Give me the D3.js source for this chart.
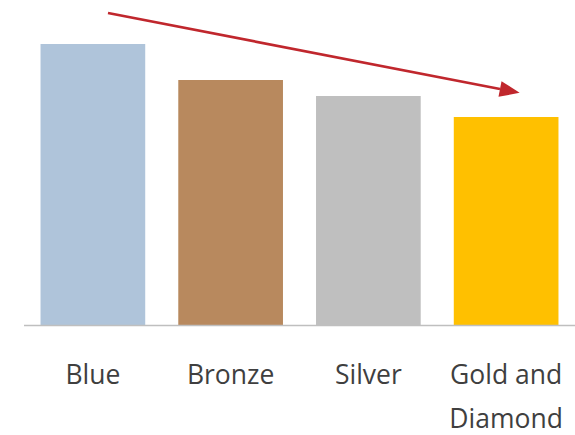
<!DOCTYPE html>
<html>
<head>
<meta charset="utf-8">
<script src="https://cdn.jsdelivr.net/npm/d3@7"></script>
<style>
  body { margin: 0; background: #fff; }
  svg { display: block; }
  .label { font-family: "Open Sans", "Liberation Sans", sans-serif; font-size: 26.5px; fill: #3f3f3f; }
</style>
</head>
<body>
<div id="chart"></div>
<script>
  // data
  var categories = ["Blue", "Bronze", "Silver", "Gold and Diamond"];
  var labelLines = [["Blue"], ["Bronze"], ["Silver"], ["Gold and", "Diamond"]];
  var values = [281, 245, 229, 208];
  var colors = ["#afc4da", "#b8895e", "#bfbfbf", "#ffc000"];

  var width = 575, height = 435,
    margin = {top: 0, right: 0, bottom: 110, left: 24};

  var svg = d3.select("#chart").append("svg")
    .attr("width", width)
    .attr("height", height);

  var x = d3.scaleBand()
    .domain(categories)
    .range([margin.left, width - margin.right])
    .paddingInner(0.24)
    .paddingOuter(0.12);

  var baseY = 325;
  var y = d3.scaleLinear()
    .domain([0, 325])
    .range([baseY, 0]);

  // bars
  svg.selectAll(".bar")
    .data(values)
    .enter().append("rect")
      .attr("class", "bar")
      .attr("x", function (d, i) { return x(categories[i]); })
      .attr("y", function (d) { return y(d); })
      .attr("width", x.bandwidth())
      .attr("height", function (d) { return y(0) - y(d); })
      .style("fill", function (d, i) { return colors[i]; });

  // baseline
  svg.append("line")
    .attr("x1", margin.left)
    .attr("x2", width)
    .attr("y1", baseY + 0.5)
    .attr("y2", baseY + 0.5)
    .style("stroke", "#bfbfbf")
    .style("stroke-width", 1.5);

  // labels
  var labels = svg.selectAll(".label")
    .data(labelLines)
    .enter().append("text")
      .attr("class", "label")
      .attr("text-anchor", "middle")
      .attr("transform", function (d, i) {
        return "translate(" + (x(categories[i]) + x.bandwidth() / 2) + "," + 384 + ")";
      });
  labels.selectAll("tspan")
    .data(function (d) { return d; })
    .enter().append("tspan")
      .attr("x", 0)
      .attr("y", function (d, i) { return i * 44; })
      .text(function (d) { return d; });

  // trend arrow
  svg.append("line")
    .attr("x1", 108)
    .attr("y1", 13)
    .attr("x2", 500)
    .attr("y2", 89)
    .style("stroke", "#c0272d")
    .style("stroke-width", 2.8);

  svg.append("path")
    .attr("d", "M0,-8L20,0L0,8Z")
    .attr("transform", "translate(500,89) rotate(" + (Math.atan2(76, 392) * 180 / Math.PI) + ")")
    .style("fill", "#c0272d");
</script>
</body>
</html>
